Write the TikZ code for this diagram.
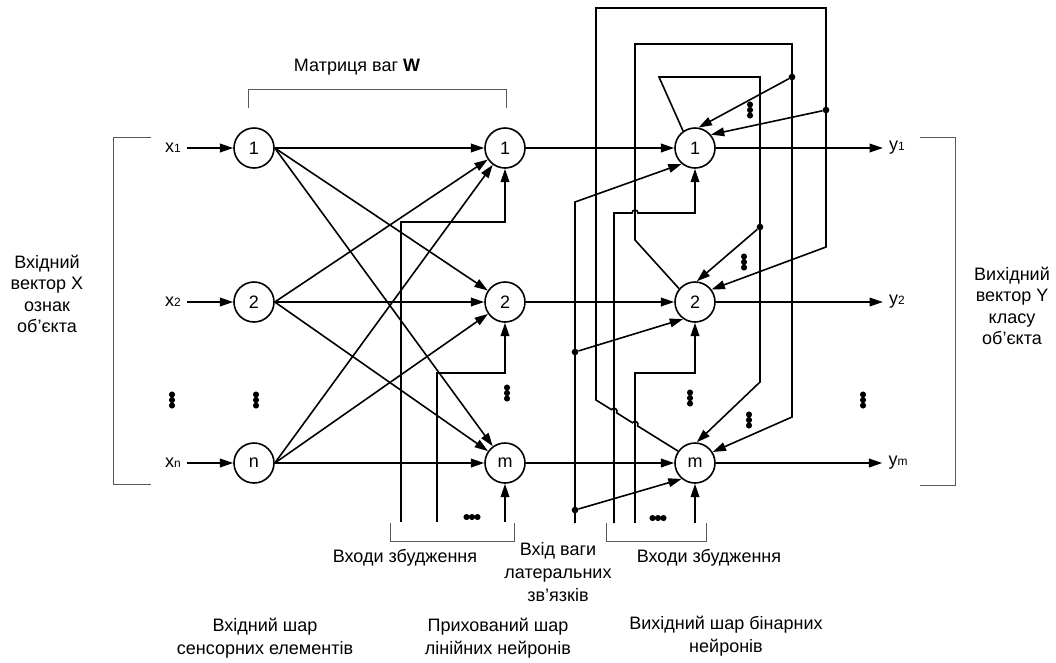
\documentclass[tikz,border=0pt]{standalone}
\usepackage{fontspec}
\setmainfont{Liberation Sans}
\usetikzlibrary{arrows.meta}
\newcommand{\smallsub}[1]{{\fontsize{9}{9}\selectfont #1}}
\tikzset{
  vdots/.pic={\fill (0,-5.5) circle[radius=2.3pt] (0,0) circle[radius=2.3pt] (0,5.5) circle[radius=2.3pt];},
  hdots/.pic={\fill (-5.5,0) circle[radius=2.3pt] (0,0) circle[radius=2.3pt] (5.5,0) circle[radius=2.3pt];}
}
\begin{document}
\begin{tikzpicture}[x=0.75pt,y=-0.75pt,
  every node/.style={font=\fontsize{13.5}{16}\selectfont},
  neuron/.style={circle,draw,line width=1.2pt,minimum size=30pt,inner sep=0pt},
  wire/.style={line width=1.2pt},
  arr/.style={wire,-{Triangle[length=10pt,width=6.5pt]}},
  brk/.style={draw=black!65,line width=0.7pt},
  lbl/.style={align=center,inner sep=0pt},
  blbl/.style={align=center,inner sep=0pt,font=\fontsize{13.5}{17}\selectfont},
  io/.style={inner xsep=4.5pt},
  jdot/.style={circle,fill,inner sep=0pt,minimum size=5pt}
]
\useasboundingbox (0,0) rectangle (1056,662);

% neurons
\node[neuron] (i1) at (254,148) {1};
\node[neuron] (i2) at (254,302) {2};
\node[neuron] (in) at (254,463) {n};
\node[neuron] (h1) at (505,148) {1};
\node[neuron] (h2) at (505,302) {2};
\node[neuron] (hm) at (505,463) {m};
\node[neuron] (o1) at (695,148) {1};
\node[neuron] (o2) at (695,302) {2};
\node[neuron] (om) at (695,463) {m};

% inputs / outputs
\node[io] (lx1) at (173,148) {x\smallsub{1}};
\node[io] (lx2) at (173,302) {x\smallsub{2}};
\node[io] (lxn) at (173,463) {x\smallsub{n}};
\node[io] (ly1) at (897,148) {y\smallsub{1}};
\node[io] (ly2) at (897,302) {y\smallsub{2}};
\node[io] (lym) at (898,463) {y\smallsub{m}};
\draw[arr] (lx1) -- (i1);
\draw[arr] (lx2) -- (i2);
\draw[arr] (lxn) -- (in);
\draw[arr] (o1) -- (ly1);
\draw[arr] (o2) -- (ly2);
\draw[arr] (om) -- (lym);

% input -> hidden
\foreach \a in {i1,i2,in}
  \foreach \b in {h1,h2,hm}
    \draw[arr] (\a.east) -- (\b);

% hidden -> output
\draw[arr] (h1) -- (o1);
\draw[arr] (h2) -- (o2);
\draw[arr] (hm) -- (om);

% hidden excitation inputs
\coordinate (eh1) at (401,522);
\coordinate (eh2) at (437,522);
\coordinate (ehm) at (505,522);
\draw[arr] (eh1) |- (505,222) -- (h1.south);
\draw[arr] (eh2) |- (505,373) -- (h2.south);
\draw[arr] (ehm) -- (hm.south);
\pic at (472,517) {hdots};

% lateral weight input
\coordinate (lw0) at (575,523);
\coordinate (lw1) at (575,202);
\node[jdot] (lj2) at (575,352) {};
\node[jdot] (lj3) at (575,510) {};
\draw[arr] (lw0) -- (lw1) -- (o1.230);
\draw[arr] (lj2) -- (o2.235);
\draw[arr] (lj3) -- (om.230);

% output excitation inputs
\coordinate (eo1) at (614,523);
\coordinate (eo2) at (635,523);
\coordinate (eom) at (695,523);
\draw[arr] (eo1) -- (614,213) -- (632,213) arc[start angle=180,end angle=0,radius=2.25pt] -- (695,213) -- (o1.south);
\draw[arr] (eo2) |- (695,373) -- (o2.south);
\draw[arr] (eom) -- (om.south);
\pic at (658,518) {hdots};

% lateral feedback: m -> 1, 2
\node[jdot] (fa) at (826,110) {};
\draw[arr] (om.145) -- (637.55,425.9) arc[start angle=-31.9,end angle=148.1,radius=2.25pt]
  -- (616.55,412.8) arc[start angle=-31.9,end angle=148.1,radius=2.25pt]
  -- (596,400) -- (596,8) -- (826,8) -- (826,247) -- (o2.37);
\draw[arr] (fa) -- (o1.40);

% lateral feedback: 2 -> 1, m
\node[jdot] (fb) at (792,77) {};
\draw[arr] (o2.140) -- (635,240) -- (635,44) -- (792,44) -- (792,417) -- (om.32);
\draw[arr] (fb) -- (o1.80);

% lateral feedback: 1 -> 2, m
\node[jdot] (fc) at (760,227) {};
\draw[arr] (o1.125) -- (659,77) -- (760,77) -- (760,382) -- (om.85);
\draw[arr] (fc) -- (o2.85);

% dots
\pic at (172,400) {vdots};
\pic at (256,400) {vdots};
\pic at (507,393) {vdots};
\pic at (690,398) {vdots};
\pic at (863,400) {vdots};
\pic at (750,110) {vdots};
\pic at (744,262) {vdots};
\pic at (749,420) {vdots};

% brackets
\draw[brk] (151,137) -- (113,137) -- (113,484) -- (151,484);
\draw[brk] (920,137) -- (955,137) -- (955,485) -- (920,485);
\draw[brk] (248,108) -- (248,89) -- (506,89) -- (506,108);
\draw[brk] (390,523) -- (390,541) -- (514,541) -- (514,523);
\draw[brk] (606,523) -- (606,541) -- (706,541) -- (706,523);

% texts
\node[lbl] (tw) at (357,67) {Матриця ваг \textbf{W}};
\node[lbl] (tx) at (47,294) {Вхідний\\вектор X\\ознак\\об’єкта};
\node[lbl] (ty) at (1012,306) {Вихідний\\вектор Y\\класу\\об’єкта};
\node[lbl] (te1) at (405,558) {Входи збудження};
\node[lbl] (te2) at (709,558) {Входи збудження};
\node[blbl] (tl) at (558,572) {Вхід ваги\\латеральних\\зв’язків};
\node[blbl] (ti) at (265,638) {Вхідний шар\\сенсорних елементів};
\node[blbl] (th) at (498,638) {Прихований шар\\лінійних нейронів};
\node[blbl] (to) at (726,636) {Вихідний шар бінарних\\нейронів};
\end{tikzpicture}
\end{document}
